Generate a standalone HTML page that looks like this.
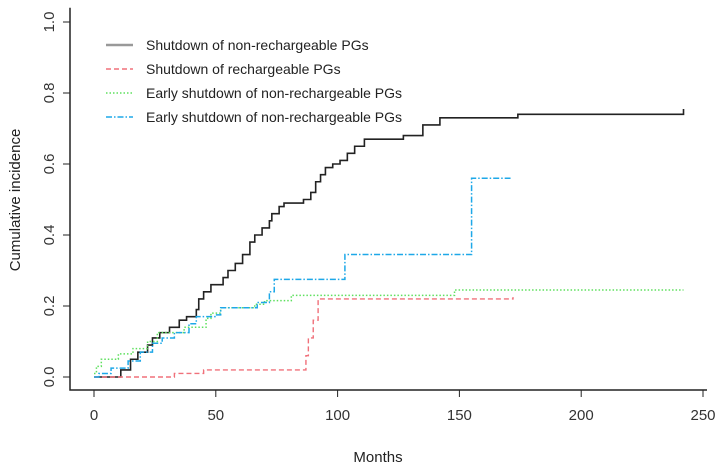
<!DOCTYPE html>
<html><head><meta charset="utf-8"><style>
body{margin:0;background:#fff;}
svg{display:block;font-family:"Liberation Sans",sans-serif;}
</style></head><body>
<svg id="chart" width="720" height="475" viewBox="0 0 720 475">
<g id="axes"></g>
<g id="series"></g>
<g id="legend"></g>
<text x="378" y="462" font-size="15" text-anchor="middle" fill="#222">Months</text>
<text transform="translate(20,200) rotate(-90)" font-size="15" text-anchor="middle" fill="#222">Cumulative incidence</text>
</svg>
<script>
const xTicks=[0,50,100,150,200,250];
const yTicks=[0,0.2,0.4,0.6,0.8,1.0];
const yTickLabels=["0.0","0.2","0.4","0.6","0.8","1.0"];
const seriesNames=["Shutdown of non-rechargeable PGs","Shutdown of  rechargeable PGs","Early shutdown of non-rechargeable PGs","Early shutdown of non-rechargeable PGs"];
const blackT=[0,11,15,18,22,24,27,31,35,38,42,43,45,48,53,55,58,61,64,66,69,72,73,76,78,86,89,91,93,95,98,101,104,107,111,127,135,142,174,242];
const blackV=[0,0.02,0.05,0.07,0.09,0.11,0.125,0.14,0.16,0.17,0.19,0.22,0.24,0.26,0.28,0.30,0.32,0.345,0.38,0.40,0.42,0.44,0.46,0.48,0.49,0.50,0.52,0.55,0.57,0.59,0.60,0.61,0.63,0.65,0.67,0.68,0.71,0.73,0.74,0.755];
const redT=[0,33,45,87,88,90,92,172];
const redV=[0,0.01,0.02,0.06,0.11,0.16,0.22,0.225];
const greenT=[0,1,3,10,16,22,26,37,46,48,52,66,70,81,148,242];
const greenV=[0.01,0.03,0.05,0.065,0.08,0.10,0.125,0.14,0.165,0.18,0.195,0.205,0.215,0.23,0.245,0.245];
const blueT=[0,2,7,14,19,24,28,33,39,42,50,52,67,72,74,103,155,171];
const blueV=[0,0.01,0.025,0.045,0.07,0.095,0.11,0.125,0.15,0.17,0.175,0.195,0.21,0.24,0.275,0.345,0.56,0.56];

const NS="http://www.w3.org/2000/svg";
const X=m=>94+m*2.436;
const Y=v=>377-v*355;
function mk(tag,attrs,parent){const e=document.createElementNS(NS,tag);for(const k in attrs)e.setAttribute(k,attrs[k]);parent.appendChild(e);return e;}
const axes=document.getElementById('axes');
let a=mk('path',{d:`M70,${Y(1.04)}V390H707`,fill:'none',stroke:'#222','stroke-width':1.5},axes);


xTicks.forEach(t=>{
 let l=mk('line',{x1:X(t),x2:X(t),y1:390,y2:397,stroke:'#222'},axes);
 
 
 let tx=mk('text',{x:X(t),y:420,'font-size':15,'text-anchor':'middle',fill:'#333'},axes);tx.textContent=t;
 
 
});
yTicks.forEach((t,i)=>{
 let l=mk('line',{x1:63,x2:70,y1:Y(t),y2:Y(t),stroke:'#222'},axes);
 
 
 let tx=mk('text',{transform:`translate(54,${Y(t)}) rotate(-90)`,'font-size':15,'text-anchor':'middle',fill:'#333'},axes);tx.textContent=yTickLabels[i];
 
 
});
function stepPath(T,V){let d=`M${X(T[0])},${Y(V[0])}`;for(let i=1;i<T.length;i++){d+=`H${X(T[i])}V${Y(V[i])}`;}return d;}
const ser=document.getElementById('series');
const styles=[
 {T:blackT,V:blackV,c:'#222',dash:'',w:1.6,n:'series-shutdown-non-rechargeable'},
 {T:redT,V:redV,c:'#f0707a',dash:'5,3',w:1.4,n:'series-shutdown-rechargeable'},
 {T:greenT,V:greenV,c:'#5ee05e',dash:'1.5,2',w:1.5,n:'series-early-shutdown-green'},
 {T:blueT,V:blueV,c:'#1ea8e8',dash:'6,2,1.5,2',w:1.5,n:'series-early-shutdown-blue'}];
styles.forEach(s=>{
 let p=mk('path',{d:stepPath(s.T,s.V),fill:'none',stroke:s.c,'stroke-width':s.w,'stroke-dasharray':s.dash},ser);
 
 
});
const leg=document.getElementById('legend');
const legCols=['#999','#f0707a','#5ee05e','#1ea8e8'];
const legW=[2.5,1.4,1.5,1.5];
seriesNames.forEach((n,i)=>{
 const y=45+i*24;
 let l=mk('line',{x1:106,x2:133,y1:y,y2:y,stroke:legCols[i],'stroke-width':legW[i],'stroke-dasharray':styles[i].dash},leg);
 
 
 let t=mk('text',{x:146,y:y+5,'font-size':14,fill:'#222'},leg);t.textContent=n;
 
 
});
</script>
</body></html>
